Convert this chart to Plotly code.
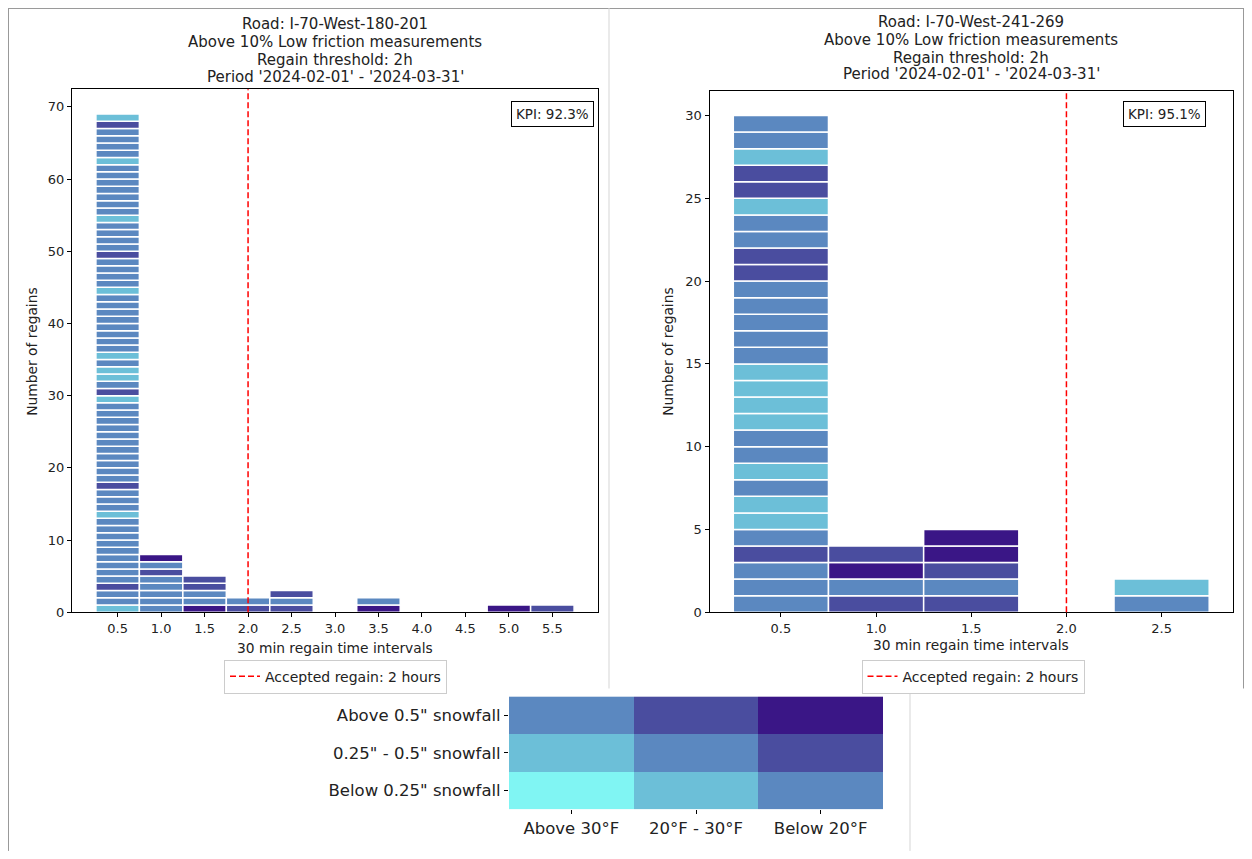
import plotly.graph_objects as go

# ---------------- data ----------------
# colour level of each 1-unit segment (bottom -> top); level = snowfall row + temperature column
LEVEL_COLORS = ["#80F5F3", "#6CBFD8", "#5B88C0", "#4A4D9F", "#3A1686"]

left_bins = [0.5, 1.0, 1.5, 2.0, 2.5, 3.5, 5.0, 5.5]
left_segments = [
    [1, 2, 2, 3, 2, 2, 2, 2, 2, 2, 2, 2, 2, 1, 2, 2, 2, 3, 2, 2, 2, 2, 2, 2, 2, 2, 2, 2, 2, 1,
     3, 2, 1, 1, 2, 1, 2, 2, 2, 2, 2, 2, 2, 2, 1, 2, 2, 2, 2, 3, 2, 2, 2, 2, 1, 2, 2, 2, 2, 2,
     2, 2, 1, 2, 2, 2, 2, 3, 1],
    [2, 2, 2, 2, 2, 3, 2, 4],
    [4, 2, 2, 3, 3],
    [3, 2],
    [3, 2, 3],
    [4, 2],
    [4],
    [3],
]
left_ticks = [0.5, 1.0, 1.5, 2.0, 2.5, 3.0, 3.5, 4.0, 4.5, 5.0, 5.5]
left_kpi = "KPI: 92.3%"
left_title = ["Road: I-70-West-180-201", "Above 10% Low friction measurements",
              "Regain threshold: 2h", "Period '2024-02-01' - '2024-03-31'"]

right_bins = [0.5, 1.0, 1.5, 2.5]
right_segments = [
    [2, 2, 2, 3, 2, 1, 1, 2, 1, 2, 2, 1, 1, 1, 1, 2, 2, 2, 2, 2, 3, 3, 2, 2, 1, 3, 3, 1, 2, 2],
    [3, 2, 4, 3],
    [3, 2, 3, 4, 4],
    [2, 1],
]
right_ticks = [0.5, 1.0, 1.5, 2.0, 2.5]
right_kpi = "KPI: 95.1%"
right_title = ["Road: I-70-West-241-269", "Above 10% Low friction measurements",
               "Regain threshold: 2h", "Period '2024-02-01' - '2024-03-31'"]

threshold = 2.0
threshold_label = "Accepted regain: 2 hours"

heat_cols = ["Above 30°F", "20°F - 30°F", "Below 20°F"]
heat_rows = ['Below 0.25" snowfall', '0.25" - 0.5" snowfall', 'Above 0.5" snowfall']
heat_z = [[0, 1, 2], [1, 2, 3], [2, 3, 4]]

# ---------------- figure ----------------
OFF = 8  # page body margin
W, H = 1252 - 2 * OFF, 859 - 2 * OFF
FONT = "DejaVu Sans"
TXT = "#222"


def px(x):
    return (x - OFF) / W


def py(y):
    return 1 - (y - OFF) / H


fig = go.Figure()


def add_stack(bins, segs, xa, ya):
    xs, bases, cols = [], [], []
    for b, s in zip(bins, segs):
        for i, lvl in enumerate(s):
            xs.append(b)
            bases.append(i)
            cols.append(LEVEL_COLORS[lvl])
    fig.add_trace(go.Bar(
        x=xs, y=[1] * len(xs), base=bases, width=0.5,
        marker=dict(color=cols, line=dict(color="white", width=1.5)),
        xaxis=xa, yaxis=ya, showlegend=False, hoverinfo="skip"))


add_stack(left_bins, left_segments, "x", "y")
add_stack(right_bins, right_segments, "x2", "y2")

for xa, ya, lg in [("x", "y", "legend"), ("x2", "y2", "legend2")]:
    fig.add_trace(go.Scatter(
        x=[None], y=[None], mode="lines", name=threshold_label,
        line=dict(color="red", dash="6px,3px", width=1.5),
        xaxis=xa, yaxis=ya, legend=lg, showlegend=True))

cs = [[i / 4, c] for i, c in enumerate(LEVEL_COLORS)]
fig.add_trace(go.Heatmap(z=heat_z, x=heat_cols, y=heat_rows, colorscale=cs,
                         zmin=0, zmax=4, showscale=False, xaxis="x3", yaxis="y3",
                         hoverinfo="skip"))

axis_common = dict(showline=True, linecolor="black", linewidth=1, mirror=True,
                   ticks="outside", ticklen=4, tickcolor="black", showgrid=False,
                   zeroline=False, tickfont=dict(family=FONT, size=13, color=TXT))

Y_TOP, Y_BOT = 90, 618
legend_common = dict(xanchor="center", yanchor="top", bordercolor="#cccccc", borderwidth=1,
                     bgcolor="white", font=dict(family=FONT, size=14, color=TXT),
                     itemwidth=30)
fig.update_layout(
    width=W, height=H, margin=dict(l=0, r=0, t=0, b=0),
    paper_bgcolor="white", plot_bgcolor="white", barmode="overlay",
    font=dict(family=FONT, color=TXT),
    xaxis=dict(domain=[px(72), px(598)], range=[-0.025, 6.025], anchor="y",
               tickvals=left_ticks, ticktext=[f"{t:.1f}" for t in left_ticks], **axis_common),
    yaxis=dict(domain=[py(Y_BOT), py(Y_TOP)], range=[0, 72.45], anchor="x",
               tickvals=list(range(0, 71, 10)), **axis_common),
    xaxis2=dict(domain=[px(709.5), px(1233)], range=[0.125, 2.875], anchor="y2",
                tickvals=right_ticks, ticktext=[f"{t:.1f}" for t in right_ticks], **axis_common),
    yaxis2=dict(domain=[py(Y_BOT), py(Y_TOP + 1.5)], range=[0, 31.5], anchor="x2",
                tickvals=list(range(0, 31, 5)), **axis_common),
    xaxis3=dict(domain=[px(509), px(883)], anchor="y3", ticks="outside", ticklen=4,
                tickcolor="black", showline=False, showgrid=False,
                tickfont=dict(family=FONT, size=16.5, color=TXT)),
    yaxis3=dict(domain=[py(817), py(703)], anchor="x3", ticks="outside", ticklen=4,
                tickcolor="black", showline=False, showgrid=False,
                tickfont=dict(family=FONT, size=16.5, color=TXT)),
    legend=dict(x=px(335.5), y=py(666), **legend_common),
    legend2=dict(x=px(973), y=py(666), **legend_common),
)

shapes = []
for xr in ["x", "x2"]:
    shapes.append(dict(type="line", xref=xr, yref=xr.replace("x", "y") + " domain",
                       x0=threshold, x1=threshold, y0=0, y1=1,
                       line=dict(color="red", dash="6px,3px", width=1.5)))
# screenshot frame pieces and dividers
frame_line = dict(color="#999", width=1)
thin_line = dict(color="#d5d5d5", width=1)
right_edge = OFF + W - 0.5
segments_px = [
    ((8.5, 8.5), (8.5, 859), frame_line),              # left border
    ((8, 8.5), (right_edge, 8.5), frame_line),         # top border
    ((right_edge, 8), (right_edge, 695), frame_line),  # right border (upper part)
    ((609, 8), (609, 695), thin_line),                 # divider between the two charts
    ((910, 695), (910, 859), thin_line),               # right edge of legend image
]
for (x0, y0), (x1, y1), ln in segments_px:
    shapes.append(dict(type="line", xref="paper", yref="paper", x0=px(x0), x1=px(x1),
                       y0=py(y0), y1=py(y1), line=ln))
fig.update_layout(shapes=shapes)

ann = []
for title, cx, ys in [(left_title, 335.5, [24, 42, 60, 78]), (right_title, 971, [22, 40, 58, 75])]:
    for line, yy in zip(title, ys):
        ann.append(dict(text=line, xref="paper", yref="paper", x=px(cx), y=py(yy),
                        xanchor="center", yanchor="middle", showarrow=False,
                        font=dict(family=FONT, size=15, color=TXT)))
for kpi, right_x in [(left_kpi, 594), (right_kpi, 1206)]:
    ann.append(dict(text=kpi, xref="paper", yref="paper", x=px(right_x), y=py(102),
                    xanchor="right", yanchor="top", showarrow=False, bordercolor="black",
                    borderwidth=1, borderpad=4, bgcolor="white",
                    font=dict(family=FONT, size=13.5, color=TXT)))
for cx, cy in [(335.5, 654), (971, 651)]:
    ann.append(dict(text="30 min regain time intervals", xref="paper", yref="paper",
                    x=px(cx), y=py(cy), xanchor="center", yanchor="middle", showarrow=False,
                    font=dict(family=FONT, size=13.8, color=TXT)))
for cx in [32, 668]:
    ann.append(dict(text="Number of regains", xref="paper", yref="paper", textangle=-90,
                    x=px(cx), y=py(355), xanchor="center", yanchor="middle", showarrow=False,
                    font=dict(family=FONT, size=13.8, color=TXT)))
fig.update_layout(annotations=ann)

fig.write_html("out.html")
